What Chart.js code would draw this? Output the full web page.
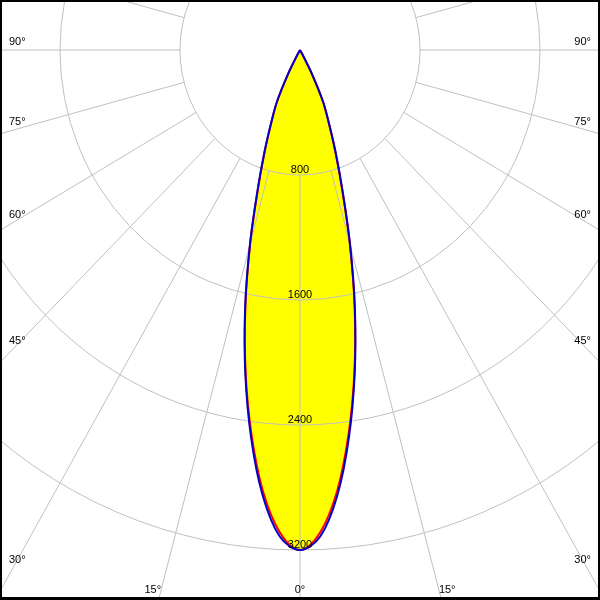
<!DOCTYPE html>
<html lang="en">
<head>
    <meta charset="UTF-8">
    <title>Polar Light Distribution</title>
    <style>
        body {
            margin: 0;
            background-color: #ffffff;
        }

        .chart-container {
            width: 600px;
            height: 600px;
        }
    </style>
    <script src="https://cdn.jsdelivr.net/npm/chart.js"></script>
</head>
<body>
    <div class="chart-container">
        <canvas id="polarChart"></canvas>
    </div>

    <script>
        // gamma angles (degrees from nadir) and luminous intensity (cd)
        const angles = [0, 2.5, 5, 7.5, 10, 12.5, 15, 17.5, 20, 22.5, 25, 27.5, 30, 32.5];
        const intensityC0 = [3200, 3090, 2835, 2480, 2090, 1682, 1284, 935, 685, 495, 355, 165, 25, 0];
        const intensityC90 = [3200, 3115, 2860, 2500, 2100, 1690, 1290, 940, 690, 500, 360, 170, 30, 0];

        const ringValues = [800, 1600, 2400, 3200];
        const sideAngleLabels = [30, 45, 60, 75, 90];
        const bottomAngleLabels = [0, 15];

        const rad = deg => deg * Math.PI / 180;

        // both halves of one C-plane: right half from the tip down to nadir, then up the left half
        function planePoints(values) {
            const right = angles.map((a, i) => ({ x: values[i] * Math.sin(rad(a)), y: -values[i] * Math.cos(rad(a)) })).reverse();
            const left = angles.slice(1).map((a, i) => ({ x: -values[i + 1] * Math.sin(rad(a)), y: -values[i + 1] * Math.cos(rad(a)) }));
            return right.concat(left);
        }

        const polarGrid = {
            id: 'polarGrid',
            beforeDatasetsDraw(chart) {
                const ctx = chart.ctx;
                const xs = chart.scales.x;
                const ys = chart.scales.y;
                const cx = xs.getPixelForValue(0);
                const cy = ys.getPixelForValue(0);

                // yellow area inside the C0 curve
                const meta = chart.getDatasetMeta(0);
                meta.dataset.updateControlPoints(chart.chartArea, 'x');
                ctx.save();
                ctx.beginPath();
                meta.dataset.path(ctx);
                ctx.closePath();
                ctx.fillStyle = '#ffff00';
                ctx.fill();
                ctx.restore();

                ctx.save();
                ctx.strokeStyle = '#c0c0c0';
                ctx.lineWidth = 1;
                ringValues.forEach(r => {
                    ctx.beginPath();
                    ctx.ellipse(cx, cy, xs.getPixelForValue(r) - cx, ys.getPixelForValue(-r) - cy, 0, 0, Math.PI * 2);
                    ctx.stroke();
                });
                for (let a = 0; a < 360; a += 15) {
                    const r0 = ringValues[0];
                    const r1 = 6000;
                    ctx.beginPath();
                    ctx.moveTo(xs.getPixelForValue(r0 * Math.sin(rad(a))), ys.getPixelForValue(-r0 * Math.cos(rad(a))));
                    ctx.lineTo(xs.getPixelForValue(r1 * Math.sin(rad(a))), ys.getPixelForValue(-r1 * Math.cos(rad(a))));
                    ctx.stroke();
                }
                ctx.restore();
            },
            afterDatasetsDraw(chart) {
                const ctx = chart.ctx;
                const xs = chart.scales.x;
                const ys = chart.scales.y;
                ctx.save();
                ctx.fillStyle = '#000000';
                ctx.font = '11px "Liberation Sans", Arial, sans-serif';

                ctx.textAlign = 'center';
                ctx.textBaseline = 'alphabetic';
                ringValues.forEach(r => {
                    ctx.fillText(String(r), xs.getPixelForValue(0), ys.getPixelForValue(-r) - 2);
                });

                // side labels where each ray meets the left / right edge
                ctx.textBaseline = 'middle';
                const edgeX = xs.getValueForPixel(13);
                sideAngleLabels.forEach(a => {
                    const r = -edgeX / Math.sin(rad(a));
                    const py = ys.getPixelForValue(-r * Math.cos(rad(a))) - 8;
                    ctx.textAlign = 'left';
                    ctx.fillText(a + '°', 9, py);
                    ctx.textAlign = 'right';
                    ctx.fillText(a + '°', 591, py);
                });

                // bottom labels
                ctx.textAlign = 'center';
                ctx.textBaseline = 'alphabetic';
                const edgeY = ys.getValueForPixel(597);
                bottomAngleLabels.forEach(a => {
                    const r = -edgeY / Math.cos(rad(a));
                    const dx = r * Math.sin(rad(a));
                    const off = a === 0 ? 0 : 6.5;
                    ctx.fillText(a + '°', xs.getPixelForValue(-dx) - off, 593);
                    if (a !== 0) {
                        ctx.fillText(a + '°', xs.getPixelForValue(dx) + off, 593);
                    }
                });
                ctx.restore();
            },
            afterDraw(chart) {
                const ctx = chart.ctx;
                ctx.save();
                ctx.fillStyle = '#000000';
                ctx.fillRect(0, 0, 600, 2);
                ctx.fillRect(0, 0, 2, 600);
                ctx.fillRect(598, 0, 2, 600);
                ctx.fillRect(0, 597, 600, 3);
                ctx.restore();
            }
        };

        new Chart(document.getElementById('polarChart').getContext('2d'), {
            type: 'line',
            data: {
                datasets: [
                    {
                        label: 'C0 - C180',
                        data: planePoints(intensityC0),
                        borderColor: '#ff0000',
                        borderWidth: 2,
                        pointRadius: 0,
                        tension: 0.35,
                        fill: false,
                        order: 2
                    },
                    {
                        label: 'C90 - C270',
                        data: planePoints(intensityC90),
                        borderColor: '#0000c8',
                        borderWidth: 2,
                        pointRadius: 0,
                        tension: 0.35,
                        fill: false,
                        order: 1
                    }
                ]
            },
            options: {
                responsive: true,
                maintainAspectRatio: false,
                animation: false,
                layout: { padding: 0 },
                scales: {
                    x: { type: 'linear', min: -2000, max: 2000, display: false },
                    y: { type: 'linear', min: -3520, max: 320, display: false }
                },
                plugins: {
                    legend: { display: false },
                    tooltip: { enabled: false }
                }
            },
            plugins: [polarGrid]
        });
    </script>
</body>
</html>
